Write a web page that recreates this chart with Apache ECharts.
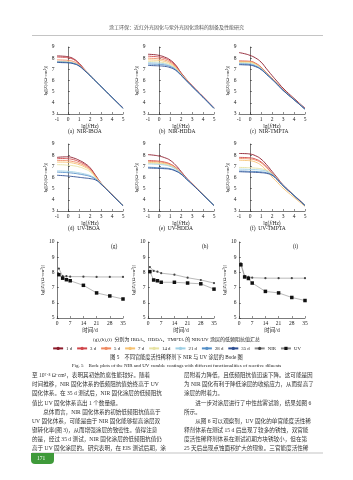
<!DOCTYPE html>
<html>
<head>
<meta charset="utf-8">
<script src="https://cdn.jsdelivr.net/npm/echarts@6/dist/echarts.min.js"></script>
<style>
html,body{margin:0;padding:0;background:#fff;}
#main{width:353px;height:480px;}
</style>
</head>
<body>
<div id="main"></div>
<script>
// 频率 lg(f/Hz)
var freqLg = [-1, -0.5, 0, 0.5, 1, 1.5, 2, 2.5, 3, 4, 5];
var dayNames = ['1 d', '3 d', '5 d', '7 d', '14 d', '21 d', '28 d', '35 d'];
var dayColors = ['#8c1c2c', '#d0474b', '#ef8a62', '#f6c272', '#e6e2a2', '#9fd0e4', '#5590c8', '#2f4f93'];

// (a) NIR-IBOA
var bodeA = [
  [8.20, 8.18, 8.12, 7.95, 7.55, 7.00, 6.50, 6.00, 5.50, 4.52, 3.55],
  [8.10, 8.08, 8.03, 7.88, 7.50, 6.98, 6.48, 5.99, 5.49, 4.51, 3.54],
  [7.85, 7.83, 7.80, 7.70, 7.42, 6.95, 6.47, 5.98, 5.49, 4.51, 3.54],
  [7.72, 7.70, 7.67, 7.58, 7.35, 6.92, 6.46, 5.97, 5.48, 4.50, 3.53],
  [7.70, 7.68, 7.65, 7.56, 7.34, 6.91, 6.45, 5.97, 5.48, 4.50, 3.53],
  [7.68, 7.66, 7.63, 7.55, 7.33, 6.91, 6.45, 5.96, 5.47, 4.50, 3.53],
  [7.66, 7.64, 7.61, 7.53, 7.32, 6.90, 6.44, 5.96, 5.47, 4.49, 3.52],
  [7.62, 7.60, 7.58, 7.50, 7.30, 6.89, 6.44, 5.95, 5.47, 4.49, 3.52]
];
// (b) NIR-HDDA
var bodeB = [
  [8.35, 8.32, 8.25, 8.10, 7.85, 7.40, 6.70, 6.10, 5.55, 4.55, 3.55],
  [8.18, 8.15, 8.10, 7.98, 7.75, 7.33, 6.66, 6.07, 5.53, 4.54, 3.54],
  [8.00, 7.98, 7.94, 7.84, 7.63, 7.25, 6.62, 6.05, 5.52, 4.53, 3.53],
  [7.85, 7.83, 7.80, 7.71, 7.52, 7.17, 6.58, 6.03, 5.51, 4.53, 3.53],
  [7.70, 7.68, 7.65, 7.58, 7.42, 7.10, 6.55, 6.01, 5.50, 4.52, 3.52],
  [7.60, 7.58, 7.55, 7.49, 7.34, 7.04, 6.52, 6.00, 5.49, 4.52, 3.52],
  [7.48, 7.46, 7.44, 7.39, 7.26, 6.98, 6.50, 5.98, 5.48, 4.51, 3.51],
  [7.35, 7.33, 7.31, 7.27, 7.16, 6.92, 6.47, 5.97, 5.47, 4.50, 3.50]
];
// (c) NIR-TMPTA
var bodeC = [
  [8.50, 8.40, 8.25, 8.02, 7.65, 7.05, 6.45, 5.88, 5.32, 4.40, 3.52],
  [7.75, 7.74, 7.72, 7.55, 7.20, 6.70, 6.22, 5.70, 5.18, 4.32, 3.47],
  [7.72, 7.71, 7.69, 7.52, 7.17, 6.68, 6.20, 5.69, 5.17, 4.31, 3.46],
  [7.68, 7.67, 7.65, 7.48, 7.13, 6.65, 6.18, 5.67, 5.16, 4.30, 3.45],
  [7.62, 7.60, 7.58, 7.42, 7.10, 6.63, 6.16, 5.66, 5.15, 4.30, 3.45],
  [7.55, 7.53, 7.50, 7.35, 7.06, 6.60, 6.14, 5.65, 5.14, 4.29, 3.44],
  [7.48, 7.46, 7.43, 7.29, 7.02, 6.58, 6.12, 5.64, 5.13, 4.29, 3.44],
  [7.42, 7.40, 7.37, 7.24, 6.98, 6.55, 6.10, 5.62, 5.12, 4.28, 3.43]
];
// (d) UV-IBOA
var bodeD = [
  [7.80, 7.84, 7.85, 7.75, 7.55, 7.28, 6.88, 6.20, 5.52, 4.48, 3.50],
  [7.68, 7.70, 7.68, 7.60, 7.42, 7.18, 6.80, 6.15, 5.50, 4.47, 3.50],
  [7.52, 7.53, 7.50, 7.42, 7.28, 7.06, 6.72, 6.10, 5.48, 4.47, 3.49],
  [7.38, 7.38, 7.35, 7.28, 7.15, 6.95, 6.64, 6.06, 5.47, 4.46, 3.49],
  [7.15, 7.14, 7.10, 7.05, 6.95, 6.78, 6.52, 6.01, 5.46, 4.46, 3.49],
  [6.60, 6.58, 6.55, 6.50, 6.42, 6.32, 6.18, 5.90, 5.44, 4.45, 3.48],
  [6.48, 6.46, 6.43, 6.38, 6.31, 6.22, 6.10, 5.86, 5.43, 4.45, 3.48],
  [6.20, 6.17, 6.13, 6.08, 6.02, 5.96, 5.90, 5.78, 5.40, 4.44, 3.47]
];
// (e) UV-HDDA
var bodeE = [
  [8.05, 8.00, 7.92, 7.78, 7.55, 7.12, 6.55, 5.95, 5.45, 4.48, 3.52],
  [7.52, 7.50, 7.46, 7.38, 7.22, 6.92, 6.45, 5.92, 5.44, 4.47, 3.51],
  [7.45, 7.43, 7.40, 7.32, 7.17, 6.88, 6.43, 5.91, 5.43, 4.47, 3.51],
  [7.35, 7.33, 7.30, 7.24, 7.10, 6.83, 6.40, 5.90, 5.43, 4.46, 3.51],
  [7.30, 7.28, 7.25, 7.19, 7.06, 6.80, 6.39, 5.89, 5.42, 4.46, 3.50],
  [7.22, 7.20, 7.17, 7.12, 7.00, 6.76, 6.37, 5.88, 5.42, 4.46, 3.50],
  [6.92, 6.90, 6.88, 6.85, 6.79, 6.62, 6.32, 5.86, 5.41, 4.45, 3.50],
  [6.85, 6.83, 6.81, 6.79, 6.74, 6.58, 6.30, 5.85, 5.40, 4.45, 3.49]
];
// (f) UV-TMPTA
var bodeF = [
  [8.15, 8.14, 8.10, 7.95, 7.65, 7.15, 6.55, 5.95, 5.35, 4.42, 3.52],
  [7.80, 7.79, 7.76, 7.65, 7.40, 6.95, 6.40, 5.85, 5.30, 4.40, 3.51],
  [7.70, 7.69, 7.66, 7.56, 7.32, 6.88, 6.35, 5.80, 5.27, 4.38, 3.50],
  [7.55, 7.53, 7.50, 7.38, 7.10, 6.62, 6.05, 5.55, 5.05, 4.22, 3.42],
  [6.90, 6.89, 6.87, 6.84, 6.78, 6.65, 6.35, 5.85, 5.30, 4.40, 3.51],
  [6.75, 6.74, 6.72, 6.70, 6.66, 6.56, 6.30, 5.83, 5.29, 4.39, 3.50],
  [6.58, 6.57, 6.55, 6.54, 6.50, 6.43, 6.24, 5.80, 5.28, 4.39, 3.50],
  [6.52, 6.50, 6.48, 6.46, 6.43, 6.37, 6.20, 5.78, 5.27, 4.38, 3.49]
];

// 低频阻抗汇总 (g)(h)(i)
var testDays = [1, 3, 5, 7, 14, 21, 28, 35];
var nirG = [8.25, 7.75, 7.75, 7.72, 7.72, 7.70, 7.70, 7.70];
var uvG = [7.85, 7.62, 7.52, 7.45, 7.15, 6.65, 6.45, 6.25];
var nirH = [8.35, 8.10, 8.05, 7.95, 7.85, 7.65, 7.50, 7.30];
var uvH = [8.05, 7.50, 7.45, 7.35, 7.35, 7.30, 7.25, 6.90];
var nirI = [8.60, 7.75, 7.70, 7.65, 7.62, 7.62, 7.62, 7.62];
var uvI = [8.50, 7.70, 7.60, 7.30, 6.75, 6.65, 6.35, 6.15];

var bodeCaps = ['(a)\u2002NIR-IBOA', '(b)\u2002NIR-HDDA', '(c)\u2002NIR-TMPTA',
                '(d)\u2002UV-IBOA', '(e)\u2002UV-HDDA', '(f)\u2002UV-TMPTA'];
var sumTags = ['(g)', '(h)', '(i)'];

var leftText = [
  '至 10\u2077\u00b7\u2078 \u03a9\u00b7cm\u00b2，表明其初始防腐性能较好。随着',
  '时间推移，NIR 固化体系的低频阻抗值始终高于 UV',
  '固化体系。在 35 d 测试后，NIR 固化涂层的低频阻抗',
  '值比 UV 固化体系高出 1 个数量级。',
  '\u3000\u3000总体而言，NIR 固化体系的初始低频阻抗值高于',
  'UV 固化体系，可能是由于 NIR 固化能够提高涂层双',
  '键转化率(图 3)，从而增强涂层的致密性。值得注意',
  '的是，经过 35 d 测试，NIR 固化涂层的低频阻抗值仍',
  '高于 UV 固化涂层的。研究表明，在 EIS 测试后期，涂'
];
var rightText = [
  '层附着力降低，且低频阻抗值迅速下降。这可能是因',
  '为 NIR 固化有利于降低涂层的收缩应力，从而提高了',
  '涂层的附着力。',
  '\u3000\u3000进一步对涂层进行了中性盐雾试验，结果如图 6',
  '所示。',
  '\u3000\u3000从图 6 可以观察到，UV 固化的单官能度活性稀',
  '释剂体系在测试 15 d 后出现了较多的锈蚀，双官能',
  '度活性稀释剂体系在测试初期方块锈较小，但在第',
  '25 天后出现点蚀面积扩大的现象。三官能度活性稀'
];

var serif = 'Liberation Serif, DejaVu Serif, Noto Sans CJK SC, serif';
var cjk = 'Liberation Serif, Noto Sans CJK SC, sans-serif';

var colX = [57, 148, 239];
var plotW = 66;
var rowY = [47, 144, 242];
var rowH = [67, 67, 76];

var grids = [], xAxes = [], yAxes = [], series = [], graphics = [];
var bodeAll = [bodeA, bodeB, bodeC, bodeD, bodeE, bodeF];

function axisBase() {
  return {
    axisLine: {lineStyle: {color: '#222', width: 0.6}},
    axisTick: {inside: true, length: 2, lineStyle: {color: '#222', width: 0.5}},
    axisLabel: {color: '#222', fontSize: 5.5, fontFamily: serif, margin: 2.5},
    splitLine: {show: false}
  };
}

for (var p = 0; p < 9; p++) {
  var r = Math.floor(p / 3), c = p % 3;
  grids.push({left: colX[c], top: rowY[r], width: plotW, height: rowH[r]});
  var xa = axisBase(), ya = axisBase();
  xa.type = 'value'; xa.gridIndex = p;
  ya.type = 'value'; ya.gridIndex = p;
  ya.nameLocation = 'middle'; ya.nameGap = 7;
  ya.name = 'lg[|Z|/(\u03a9\u00b7cm\u00b2)]';
  ya.nameTextStyle = {fontSize: 5, fontFamily: serif, color: '#222'};
  xa.nameLocation = 'middle';
  if (r < 2) {
    xa.min = -1; xa.max = 5; xa.interval = 1;
    ya.min = 3; ya.max = 9; ya.interval = 1;
    xa.name = '{n|lg(}{i|f}{n|/Hz)}'; xa.nameGap = 10;
    xa.nameTextStyle = {rich: {
      n: {fontSize: 5.5, fontFamily: serif, color: '#222'},
      i: {fontSize: 5.5, fontFamily: serif, fontStyle: 'italic', color: '#222'}}};
  } else {
    xa.min = 0; xa.max = 35; xa.interval = 7;
    ya.min = 5; ya.max = 10; ya.interval = 1;
    xa.name = '时间/d'; xa.nameGap = 10;
    xa.nameTextStyle = {fontSize: 5.5, fontFamily: cjk, color: '#222'};
  }
  xAxes.push(xa); yAxes.push(ya);
}

bodeAll.forEach(function (bode, p) {
  bode.forEach(function (vals, i) {
    series.push({
      type: 'line', name: dayNames[i], xAxisIndex: p, yAxisIndex: p,
      data: freqLg.map(function (f, k) { return [f, vals[k]]; }),
      smooth: true, symbol: 'none', silent: true,
      lineStyle: {width: 0.9, color: dayColors[i]},
      itemStyle: {color: dayColors[i]}
    });
  });
  var r = Math.floor(p / 3), c = p % 3;
  graphics.push({type: 'text', left: colX[c] + plotW / 2 - 22, top: rowY[r] + rowH[r] + 15,
    style: {text: bodeCaps[p], font: '5.5px ' + serif, fill: '#222'}});
});

var nirAll = [nirG, nirH, nirI], uvAll = [uvG, uvH, uvI];
for (var k = 0; k < 3; k++) {
  var ax = 6 + k;
  series.push({
    type: 'line', name: 'NIR', xAxisIndex: ax, yAxisIndex: ax,
    data: testDays.map(function (d, j) { return [d, nirAll[k][j]]; }),
    symbol: 'circle', symbolSize: 2.2,
    lineStyle: {width: 0.6, color: '#8a8a8a'}, itemStyle: {color: '#444'}
  });
  series.push({
    type: 'line', name: 'UV', xAxisIndex: ax, yAxisIndex: ax,
    data: testDays.map(function (d, j) { return [d, uvAll[k][j]]; }),
    symbol: 'rect', symbolSize: 3.5,
    lineStyle: {width: 0.6, color: '#8a8a8a'}, itemStyle: {color: '#111'}
  });
  graphics.push({type: 'text', left: colX[k] + plotW - 12, top: rowY[2] + 2,
    style: {text: sumTags[k], font: '5.5px ' + serif, fill: '#222'}});
}

// 页眉
graphics.push({type: 'text', left: 'center', top: 25,
  style: {text: '涂工环保：近红外光固化与紫外光固化涂料的制备及性能研究', font: '5px ' + cjk, fill: '#555'}});
graphics.push({type: 'line', shape: {x1: 32, y1: 35.5, x2: 323, y2: 35.5}, style: {stroke: '#aaa', lineWidth: 0.7}});

// 图注
graphics.push({type: 'text', left: 'center', top: 337,
  style: {text: '(g),(h),(i)\u2002分别为 IBOA、HDDA、TMPTA 的 NIR/UV 涂层的低频阻抗值汇总', font: '5px ' + cjk, fill: '#222'}});
graphics.push({type: 'text', left: 'center', top: 355,
  style: {text: '图 5\u2003不同官能度活性稀释剂下 NIR 与 UV 涂层的 Bode 图', font: '5.2px ' + cjk, fill: '#222'}});
graphics.push({type: 'text', left: 'center', top: 363,
  style: {text: 'Fig. 5\u2003Bode plots of the NIR and UV curable coatings with different functionalities of reactive diluents', font: '5px ' + serif, fill: '#222'}});

// 正文
leftText.forEach(function (t, i) {
  graphics.push({type: 'text', left: 32, top: 373 + i * 9.1, style: {text: t, font: '5.6px ' + cjk, fill: '#333'}});
});
rightText.forEach(function (t, i) {
  graphics.push({type: 'text', left: 184, top: 373 + i * 9.1, style: {text: t, font: '5.6px ' + cjk, fill: '#333'}});
});

// 页脚
graphics.push({type: 'line', shape: {x1: 32, y1: 453, x2: 323, y2: 453}, style: {stroke: '#aaa', lineWidth: 0.7}});
graphics.push({type: 'rect', shape: {x: 31, y: 453, width: 23, height: 11, r: [0, 0, 4, 4]}, style: {fill: '#3f9a3a'}});
graphics.push({type: 'text', left: 37, top: 455.5, style: {text: '171', font: '5.5px ' + serif, fill: '#fff'}});

var chart = echarts.init(document.getElementById('main'), null, {renderer: 'canvas'});
chart.setOption({
  animation: false,
  backgroundColor: '#fff',
  grid: grids,
  xAxis: xAxes,
  yAxis: yAxes,
  legend: {
    top: 346, left: 'center', width: 340, padding: 0,
    data: dayNames.concat(['NIR', 'UV']),
    itemWidth: 10, itemHeight: 4, itemGap: 4,
    textStyle: {fontSize: 4.8, fontFamily: serif, color: '#222', padding: [0, 0, 0, -2]}
  },
  series: series,
  graphic: graphics
});
</script>
</body>
</html>
